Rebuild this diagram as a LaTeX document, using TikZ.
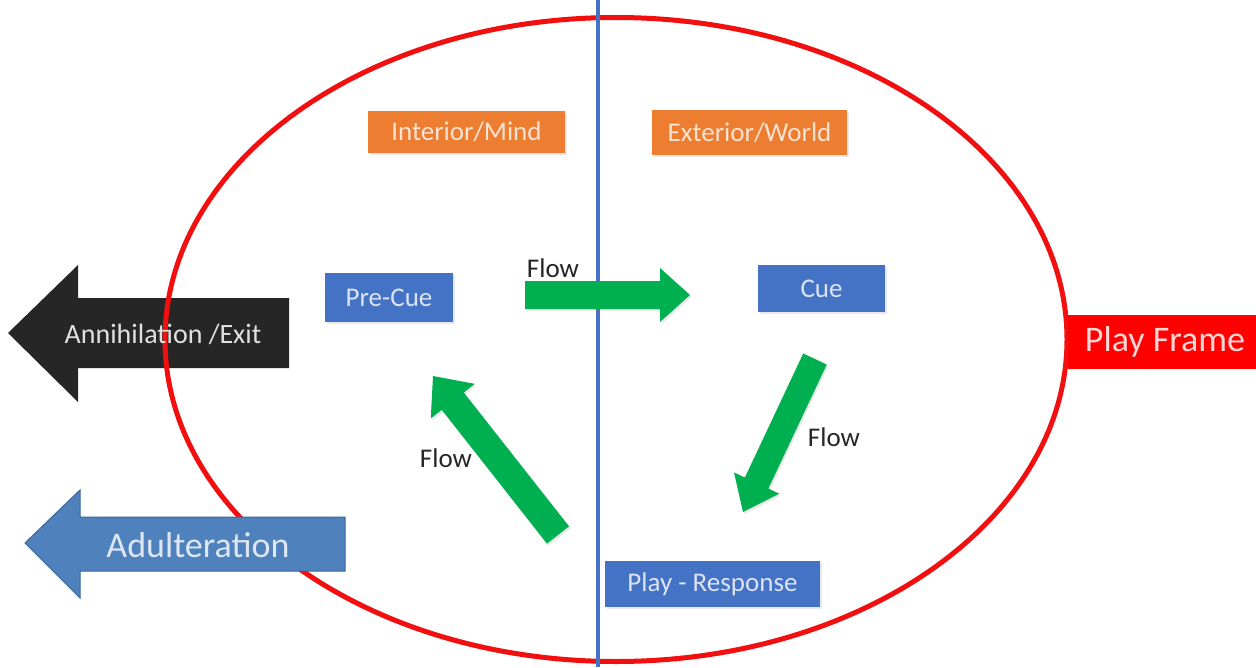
\documentclass[tikz,border=0pt]{standalone}
\usepackage{fontspec}
\setmainfont{Carlito}
\usetikzlibrary{calc,shadows}
\definecolor{framered}{HTML}{F20F0F}
\definecolor{lineblue}{HTML}{4472C4}
\definecolor{boxblue}{HTML}{4472C4}
\definecolor{boxtext}{HTML}{DCE4F4}
\definecolor{boxorange}{HTML}{ED7D31}
\definecolor{orangetext}{HTML}{FBE3D2}
\definecolor{flowgreen}{HTML}{00B050}
\definecolor{exitblack}{HTML}{262626}
\definecolor{adulblue}{HTML}{4F81BD}
\definecolor{adulline}{HTML}{3A659A}
\definecolor{adultext}{HTML}{DDE7F3}
\definecolor{frametext}{HTML}{FFD6D6}
\tikzset{
  softshadow/.style={drop shadow={opacity=0.18, shadow xshift=1.5pt, shadow yshift=-2pt}},
  boxlabel/.style={font=\fontsize{27}{30}\selectfont, inner sep=0pt, anchor=center, softshadow},
  bluebox/.style={boxlabel, fill=boxblue, text=boxtext},
  orangebox/.style={boxlabel, fill=boxorange, text=orangetext},
  flowlabel/.style={font=\fontsize{27}{30}\selectfont, text=exitblack, inner sep=0pt},
  greenarrow/.style={fill=flowgreen, softshadow},
}
% tail, tip, half body width, half head width, head length
\newcommand\flowarrow[5]{%
  \coordinate (#1-base) at ($(#2)!#5!(#1)$);
  \fill[greenarrow] ($(#1)!#3!90:(#2)$) -- ($(#1-base)!#3!90:(#2)$) -- ($(#1-base)!#4!90:(#2)$)
    -- (#2) -- ($(#1-base)!#4!-90:(#2)$) -- ($(#1-base)!#3!-90:(#2)$) -- ($(#1)!#3!-90:(#2)$) -- cycle;
}
\begin{document}
\begin{tikzpicture}[x=1pt,y=-1pt]
\useasboundingbox (0,0) rectangle (1256,667);
\fill[white] (0,0) rectangle (1256,667);

% black exit arrow (under the ellipse)
\fill[exitblack] (8,333) -- (78,265) -- (78,298) -- (289,298) -- (289,368) -- (78,368) -- (78,402) -- cycle;

% play frame ellipse
\draw[framered, line width=5pt] (616,339.5) ellipse [x radius=451, y radius=322];
\coordinate (frameright) at (1067,339.5);

% dividing line
\coordinate (divtop) at (598,0);
\coordinate (divbot) at (598,667);
\draw[lineblue, line width=4.5pt] (divtop) -- (divbot);

% exit arrow text
\node[font=\fontsize{28}{30}\selectfont, text=black!12, inner sep=0pt] (exit) at (163,334) {Annihilation /Exit};

% adulteration arrow
\filldraw[fill=adulblue, draw=adulline, line width=1pt] (25,543) -- (80,490) -- (80,517) -- (345,517) -- (345,571) -- (80,571) -- (80,598) -- cycle;
\node[font=\fontsize{36}{40}\selectfont, text=adultext, inner sep=0pt] (adul) at (198,545) {Adulteration};

% play frame tab
\fill[red] (1068,315) rectangle (1256,369);
\node[font=\fontsize{36}{40}\selectfont, text=frametext, inner sep=0pt] (playframe) at (1165,342) {Play Frame};

% headers
\node[orangebox, minimum width=197pt, minimum height=42pt] (interior) at (466.5,132) {Interior/Mind};
\node[orangebox, minimum width=195pt, minimum height=45pt] (exterior) at (749.5,132.5) {Exterior/World};

% boxes
\node[bluebox, minimum width=128pt, minimum height=49pt] (precue) at (389,297.5) {Pre-Cue};
\node[bluebox, minimum width=127pt, minimum height=47pt] (cue) at (821.5,288.5) {Cue};
\node[bluebox, minimum width=215pt, minimum height=46pt] (response) at (712.5,584) {Play - Response};

% flow arrows
\coordinate (f1t) at (525,295);
\coordinate (f1h) at (690,295);
\flowarrow{f1t}{f1h}{14pt}{27pt}{30pt}
\coordinate (f2t) at (815,359);
\coordinate (f2h) at (743,512);
\flowarrow{f2t}{f2h}{13pt}{25pt}{32pt}
\coordinate (f3t) at (558,535);
\coordinate (f3h) at (433,376);
\flowarrow{f3t}{f3h}{14pt}{28pt}{32pt}

\node[flowlabel] (flow1) at (553,268) {Flow};
\node[flowlabel] (flow2) at (834,437) {Flow};
\node[flowlabel] (flow3) at (446,458) {Flow};
\end{tikzpicture}
\end{document}
